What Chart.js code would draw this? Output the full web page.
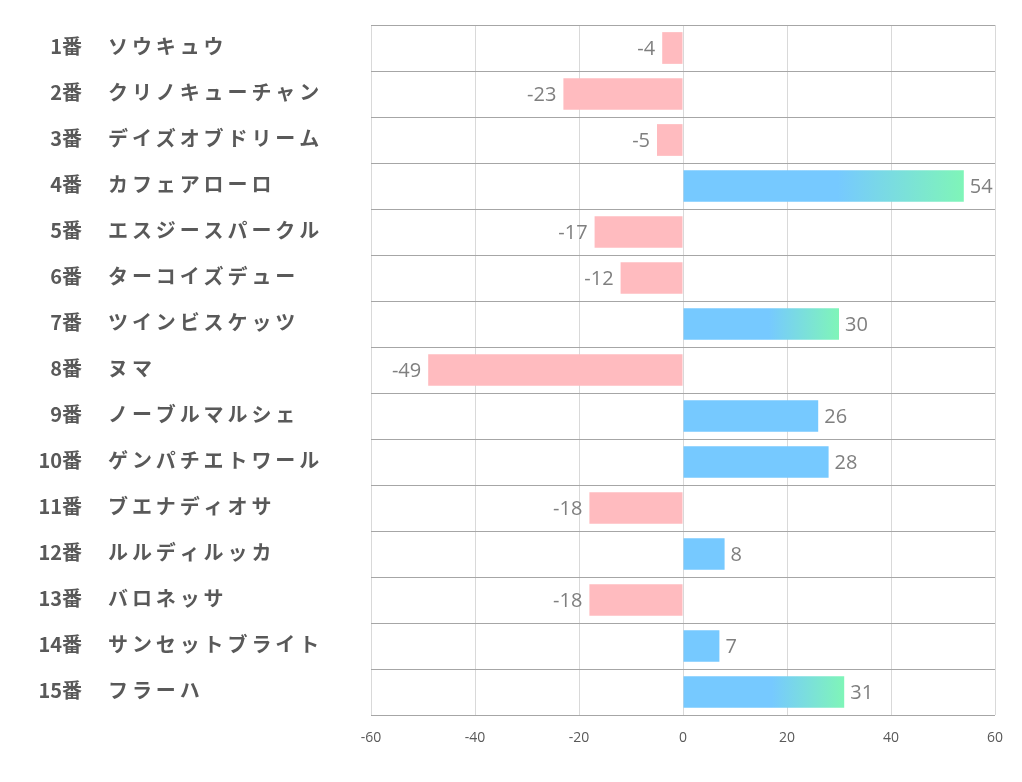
<!DOCTYPE html>
<html>
<head>
<meta charset="utf-8">
<script src="https://cdn.jsdelivr.net/npm/chart.js@4/dist/chart.umd.min.js"></script>
<style>
  html, body { margin: 0; padding: 0; background: #fff; }
  #wrap { width: 1022px; height: 782px; position: relative; }
</style>
</head>
<body>
<div id="wrap"><canvas id="diffChart"></canvas></div>
<script>
// 馬番と馬名
const horseNumbers = ["1番", "2番", "3番", "4番", "5番", "6番", "7番", "8番", "9番", "10番", "11番", "12番", "13番", "14番", "15番"];
const horseNames = ["ソウキュウ", "クリノキューチャン", "デイズオブドリーム", "カフェアローロ", "エスジースパークル", "ターコイズデュー", "ツインビスケッツ", "ヌマ", "ノーブルマルシェ", "ゲンパチエトワール", "ブエナディオサ", "ルルディルッカ", "バロネッサ", "サンセットブライト", "フラーハ"];
const scores = [-4, -23, -5, 54, -17, -12, 30, -49, 26, 28, -18, 8, -18, 7, 31];
const xTicks = [-60, -40, -20, 0, 20, 40, 60];

const PINK = "#ffbbbf";
const BLUE = "#76c9ff";
const GREEN = "#7ff5b8";

const barColor = (ctx) => {
  const v = scores[ctx.dataIndex];
  if (v < 0) return PINK;
  const chart = ctx.chart;
  if (v < 30 || !chart.chartArea || !chart.scales.x) return BLUE;
  const x0 = chart.scales.x.getPixelForValue(0);
  const x1 = chart.scales.x.getPixelForValue(v);
  const g = chart.ctx.createLinearGradient(x0, 0, x1, 0);
  g.addColorStop(0, BLUE);
  g.addColorStop(0.55, BLUE);
  g.addColorStop(1, GREEN);
  return g;
};

// 左側の馬番・馬名ラベル
const nameLabels = {
  id: "nameLabels",
  afterDraw(chart) {
    const { ctx, scales } = chart;
    ctx.save();
    ctx.fillStyle = "#595959";
    ctx.font = "bold 20px 'Noto Sans CJK JP'";
    ctx.textBaseline = "middle";
    horseNumbers.forEach((n, i) => {
      const y = scales.y.getPixelForValue(i) - 2;
      ctx.letterSpacing = "0px";
      ctx.textAlign = "right";
      ctx.fillText(n, 82, y);
      ctx.letterSpacing = "3.9px";
      ctx.textAlign = "left";
      ctx.fillText(horseNames[i], 108, y);
    });
    ctx.restore();
  },
};

// バーの数値ラベル
const valueLabels = {
  id: "valueLabels",
  afterDatasetsDraw(chart) {
    const { ctx } = chart;
    const meta = chart.getDatasetMeta(0);
    ctx.save();
    ctx.fillStyle = "#7f7f7f";
    ctx.font = "20px 'Open Sans'";
    ctx.textBaseline = "middle";
    meta.data.forEach((bar, i) => {
      const v = scores[i];
      if (v < 0) {
        ctx.textAlign = "right";
        ctx.fillText(String(v), bar.x - 7, bar.y + 1);
      } else {
        ctx.textAlign = "left";
        ctx.fillText(String(v), bar.x + 6, bar.y + 1);
      }
    });
    ctx.restore();
  },
};

const canvasElement = document.getElementById("diffChart");
new Chart(canvasElement.getContext("2d"), {
  type: "bar",
  data: {
    labels: horseNames,
    datasets: [
      {
        data: scores,
        backgroundColor: barColor,
        borderWidth: 0,
        categoryPercentage: 1,
        barPercentage: 0.69,
      },
    ],
  },
  options: {
    indexAxis: "y",
    responsive: true,
    maintainAspectRatio: false,
    animation: false,
    layout: { padding: { left: 371, right: 27, top: 25, bottom: 0 } },
    plugins: {
      legend: { display: false },
      tooltip: { enabled: false },
    },
    scales: {
      x: {
        min: -60,
        max: 60,
        afterBuildTicks: (s) => {
          s.ticks = xTicks.map((v) => ({ value: v }));
        },
        afterFit: (s) => {
          s.height = 67;
        },
        grid: { color: "#d9d9d9", lineWidth: 1, drawTicks: false },
        border: { display: false },
        ticks: {
          color: "#595959",
          font: { family: "'Open Sans'", size: 14 },
          padding: 15,
        },
      },
      y: {
        afterFit: (s) => {
          s.width = 0;
        },
        grid: { offset: true, color: "#a6a6a6", lineWidth: 1, drawTicks: false },
        border: { display: false },
        ticks: { display: false },
      },
    },
  },
  plugins: [nameLabels, valueLabels],
});
</script>
</body>
</html>
